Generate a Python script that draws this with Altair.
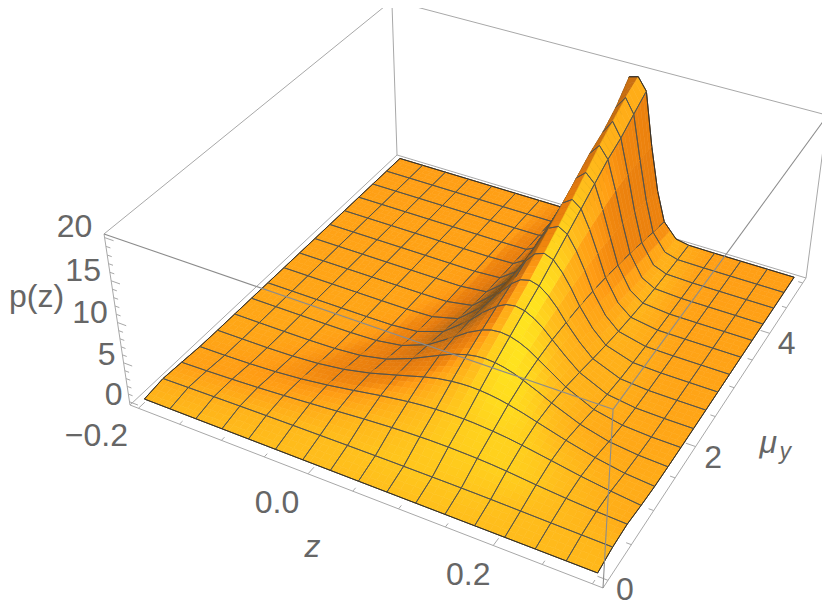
import numpy as np
import pandas as pd
import altair as alt

# ---------- values ----------
z_values = [-.2, -.16875, -.1375, -.10625, -.075, -.04375, -.0125, .01875, .05, .0656, .08125, .0917, .1021,
            .1125, .1229, .1333, .14375, .1594, .175, .20625, .2375, .26875, .3]
mu_values = [0, .3125, .625, .9375, 1.25, 1.5625, 1.875, 2.1875, 2.5, 2.8125, 3.125, 3.4375, 3.75, 4.0625,
             4.375, 4.6875, 5]
row00 = [0] * 23
row01 = [.35, .42, .48, .54, .59, .63, .66, .69, .71, .72, .72, .72, .72, .72, .72, .72, .71, .70, .68, .62, .56, .50, .45]
row02 = [.2, .3, .43, .6, .82, 1.07, 1.35, 1.62, 1.84, 1.92, 1.97, 2, 2, 2, 1.97, 1.94, 1.9, 1.8, 1.66, 1.3, 1.0, .76, .6]
row03 = [.03, .08, .18, .36, .66, 1.1, 1.65, 2.25, 2.75, 2.93, 3.05, 3.09, 3.1, 3.09, 3.05, 2.97, 2.87, 2.68, 2.42, 1.82, 1.2, .7, .3]
row04 = [0, .02, .05, .15, .39, .84, 1.58, 2.56, 3.56, 3.98, 4.25, 4.36, 4.4, 4.36, 4.25, 4.08, 3.84, 3.41, 2.9, 1.9, 1.04, .4, .1]
row05 = [0, 0, .01, .03, .13, .41, 1.13, 2.43, 4.05, 4.8, 5.33, 5.55, 5.63, 5.55, 5.33, 5.0, 4.54, 3.78, 2.93, 1.5, .59, .19, .04]
row06 = [0, 0, 0, 0, .03, .16, .68, 2.0, 4.19, 5.36, 6.25, 6.63, 6.75, 6.62, 6.25, 5.7, 4.95, 3.81, 2.64, 1.0, .26, .05, .01]
row07 = [0, 0, 0, 0, 0, .04, .34, 1.51, 4.13, 5.76, 7.09, 7.69, 7.88, 7.67, 7.09, 6.26, 5.18, 3.62, 2.2, .6, .1, .01, 0]
row08 = [0, 0, 0, 0, 0, .01, .15, 1.04, 3.89, 5.99, 7.85, 8.72, 9, 8.69, 7.85, 6.67, 5.19, 3.28, 1.71, .31, .03, 0, 0]
row09 = [0, 0, 0, 0, 0, 0, .06, .67, 3.55, 6.18, 8.69, 9.94, 10.35, 9.91, 8.69, 7.07, 5.15, 2.85, 1.25, .15, .01, 0, 0]
row10 = [0, 0, 0, 0, 0, 0, .02, .4, 3.14, 6.23, 9.48, 11.19, 11.75, 11.13, 9.48, 7.36, 4.97, 2.4, .87, .06, 0, 0, 0]
row11 = [0, 0, 0, 0, 0, 0, 0, .22, 2.67, 6.12, 10.18, 12.44, 13.2, 12.36, 10.18, 7.49, 4.67, 1.94, .57, .02, 0, 0, 0]
row12 = [0, 0, 0, 0, 0, 0, 0, .12, 2.2, 5.88, 10.78, 13.72, 14.7, 13.62, 10.78, 7.49, 4.26, 1.5, .34, .01, 0, 0, 0]
row13 = [0, 0, 0, 0, 0, 0, 0, .05, 1.75, 5.57, 11.3, 15, 16.25, 14.85, 11.3, 7.36, 3.81, 1.11, .2, 0, 0, 0, 0]
row14 = [0, 0, 0, 0, 0, 0, 0, .02, 1.33, 5.06, 11.5, 15.9, 17.5, 15.75, 11.5, 7, 3.26, .78, .11, 0, 0, 0, 0]
row15 = [0, 0, 0, 0, 0, 0, 0, .01, .96, 4.5, 11.55, 17.3, 18.75, 17, 11.55, 6.55, 2.7, .53, .05, 0, 0, 0, 0]
row16 = [0, 0, 0, 0, 0, 0, 0, 0, .68, 3.92, 12.5, 19.4, 19.7, 18.2, 11.5, 6, 2.2, .35, .03, 0, 0, 0, 0]
heights = [row00, row01, row02, row03, row04, row05, row06, row07, row08, row09, row10, row11, row12, row13,
           row14, row15, row16]

z_tick_values = [-.2, -.15, -.1, -.05, 0, .05, .1, .15, .2, .25, .3]
z_tick_major = [-.2, 0, .2]
mu_tick_values = [0, .5, 1, 1.5, 2, 2.5, 3, 3.5, 4, 4.5, 5]
mu_tick_major = [0, 2, 4]
p_tick_values = list(range(0, 21))
p_tick_major = [0, 5, 10, 15, 20]

# ---------- camera ----------
CAM = np.array([[406.8, 350.8, -33.1, 130.0],
                [118.4, -217.3, -187.1, 405.0],
                [-.1098, .211, -.0686, 1.0]])


def project(u, v, t):
    u, v, t = np.asarray(u, float), np.asarray(v, float), np.asarray(t, float)
    w = CAM[2, 0] * u + CAM[2, 1] * v + CAM[2, 2] * t + CAM[2, 3]
    x = (CAM[0, 0] * u + CAM[0, 1] * v + CAM[0, 2] * t + CAM[0, 3]) / w
    y = (CAM[1, 0] * u + CAM[1, 1] * v + CAM[1, 2] * t + CAM[1, 3]) / w
    return x, y, w


def U(z):
    return .02 + .96 * (np.asarray(z, float) + .2) / .5


def V(m):
    return .02 + .96 * np.asarray(m, float) / 5


def T(p):
    return .02 + .96 * np.asarray(p, float) / 20


Zs = np.array(z_values)
Ms = np.array(mu_values)
Hs = np.array(heights, float)
assert Hs.shape == (17, 23)
uu = U(Zs)
vv = V(Ms)
tt = T(Hs)

# ---------- shading (a light from the front right) ----------
hw = .4 * tt
du = np.gradient(hw, uu, axis=1)
dv = np.gradient(hw, vv, axis=0)
nn = np.sqrt(du ** 2 + dv ** 2 + 1)
LIGHT = np.array([.45, -.5, .74])
shade = (-du * LIGHT[0] - dv * LIGHT[1] + LIGHT[2]) / nn
uu2, vv2 = np.meshgrid(uu, vv)
shade = shade + .06 * (1 - vv2) - .01

stops = [-.4, .1, .32, .52, .66, .72, .88, .98, 1.05]
cols = np.array([[75, 50, 22], [120, 78, 25], [185, 105, 20], [228, 122, 14], [240, 134, 14], [255, 156, 20],
                 [255, 190, 28], [255, 228, 31], [255, 240, 60]], float)


def colour(s):
    rgb = [np.interp(s, stops, cols[:, k]) for k in range(3)]
    return "#%02x%02x%02x" % tuple(int(round(c)) for c in rgb)


# ---------- painter's list of the surface ----------
items = []
cols_idx = (Zs + .2) / .03125
is_mesh = np.abs(cols_idx - np.round(cols_idx)) < 1e-3
NJ = 4
for j in range(16):
    for i in range(22):
        width = cols_idx[i + 1] - cols_idx[i]
        ni = 4 if width > .9 else (2 if width > .45 else 1)
        for a in range(ni):
            for b in range(NJ):
                corners = [(a / ni, b / NJ), ((a + 1) / ni, b / NJ), ((a + 1) / ni, (b + 1) / NJ), (a / ni, (b + 1) / NJ)]
                pts, ss = [], []
                for (f, g) in corners:
                    bil = lambda M: ((1 - f) * (1 - g) * M[j, i] + f * (1 - g) * M[j, i + 1] + f * g * M[j + 1, i + 1] + (1 - f) * g * M[j + 1, i])
                    pts.append(project(uu[i] + f * (uu[i + 1] - uu[i]), vv[j] + g * (vv[j + 1] - vv[j]), bil(tt)))
                    ss.append(bil(shade))
                pts = np.array(pts)
                c = colour(float(np.mean(ss)))
                items.append((float(pts[:, 2].mean()), pts[:, 0], pts[:, 1], c, c, .6))

BIAS = .006
MESH = "#55544c"
EDGE = "#33302a"
# lines of constant mu
for j in range(17):
    xs, ys, ws = project(uu, vv[j], tt[j])
    for i in range(22):
        items.append((float(ws[i:i + 2].mean()) - BIAS, xs[i:i + 2], ys[i:i + 2], "transparent", EDGE if j in (0, 16) else MESH, .9))
# lines of constant z
for i in np.where(is_mesh)[0]:
    xs, ys, ws = project(uu[i], vv, tt[:, i])
    for j in range(16):
        items.append((float(ws[j:j + 2].mean()) - BIAS, xs[j:j + 2], ys[j:j + 2], "transparent", EDGE if i in (0, 22) else MESH, .9))

items.sort(key=lambda r: -r[0])
rows = []
for g, (_, xs, ys, fc, sc, sw) in enumerate(items):
    for o, (px, py) in enumerate(zip(xs, ys)):
        rows.append((g, o, round(float(px), 2), round(float(py), 2), fc, sc, sw))
surface_df = pd.DataFrame(rows, columns=["g", "o", "x", "y", "f", "s", "w"])

X = alt.X("x:Q", scale=alt.Scale(domain=[8, 822], nice=False, zero=False), axis=None)
Y = alt.Y("y:Q", scale=alt.Scale(domain=[606, 8], nice=False, zero=False), axis=None)

surface = alt.Chart(surface_df).mark_line(filled=True, interpolate="linear-closed", strokeJoin="round").encode(
    x=X, y=Y, detail="g:N", order="o:Q",
    fill=alt.Fill("f:N", scale=None),
    stroke=alt.Stroke("s:N", scale=None),
    strokeWidth=alt.StrokeWidth("w:Q", scale=None),
)


# ---------- box and ticks ----------
def seg_df(segs):
    out = []
    for g, (a, b) in enumerate(segs):
        for o, p in enumerate((a, b)):
            px, py, _ = project(*p)
            out.append((g, o, float(px), float(py)))
    return pd.DataFrame(out, columns=["g", "o", "x", "y"])


def lines(segs, color, width):
    return alt.Chart(seg_df(segs)).mark_line(color=color, strokeWidth=width).encode(x=X, y=Y, detail="g:N", order="o:Q")


back_edges = [((0, 0, 0), (1, 0, 0)), ((1, 0, 0), (1, 1, 0)), ((1, 1, 0), (0, 1, 0)), ((0, 1, 0), (0, 0, 0)),
              ((0, 0, 0), (0, 0, 1)), ((1, 1, 0), (1, 1, 1)), ((0, 1, 0), (0, 1, 1)),
              ((0, 0, 1), (0, 1, 1)), ((0, 1, 1), (1, 1, 1))]
front_edges = [((0, 0, 1), (1, 0, 1)), ((1, 0, 1), (1, 1, 1)), ((1, 0, 0), (1, 0, 1))]
ticks = []
for z in z_tick_values:
    L = .02 if z in z_tick_major else .01
    ticks.append(((float(U(z)), 0, 0), (float(U(z)), L, 0)))
for m in mu_tick_values:
    L = .02 if m in mu_tick_major else .01
    ticks.append(((1, float(V(m)), 0), (1 - L, float(V(m)), 0)))
for p in p_tick_values:
    L = .02 if p in p_tick_major else .01
    ticks.append(((0, 0, float(T(p))), (L, 0, float(T(p)))))

layers = [lines(back_edges, "#a8a8a8", 1), lines(ticks, "#a8a8a8", 1), surface, lines(front_edges, "#8c8c8c", 1.1)]


# ---------- labels ----------
def label(text, pos, dx, dy, size=32, italic=False, align="center"):
    px, py, _ = project(*pos)
    df = pd.DataFrame({"x": [float(px)], "y": [float(py)], "t": [text]})
    return alt.Chart(df).mark_text(font="Liberation Sans", fontSize=size, color="#666666", dx=dx, dy=dy, align=align,
                                   baseline="middle", fontStyle="italic" if italic else "normal").encode(
        x=X, y=Y, text="t:N")


for p, dx, dy in zip(p_tick_major, [-16, -17, -27.5, -28, -30], [-7, -8, -10, -10, -11]):
    layers.append(label(str(p), (0, 0, float(T(p))), dx, dy))
for z, s, dx, dy in zip(z_tick_major, ["\u22120.2", "0.0", "0.2"], [-42, -31, -25], [28, 29, 29.5]):
    layers.append(label(s, (float(U(z)), 0, 0), dx, dy))
for m, dx, dy in zip(mu_tick_major, [17, 17.5, 17], [10, 11.5, 11]):
    layers.append(label(str(m), (1, float(V(m)), 0), dx, dy))
layers.append(label("z", (float(U(.1)), 0, 0), -86, 38, italic=True))
layers.append(label("p(z)", (0, 0, float(T(10))), -81, -26))
layers.append(label("\u03bc", (1, float(V(2.5)), 0), 53, 26.5, italic=True))
layers.append(label("y", (1, float(V(2.5)), 0), 70, 35.5, size=23, italic=True))

chart = alt.layer(*layers).properties(width=814, height=598, padding=0, background="white",
                                      autosize=alt.AutoSizeParams(type="none")).configure_view(stroke=None)
chart.save("out.html", embed_options={"renderer": "svg", "actions": False})
